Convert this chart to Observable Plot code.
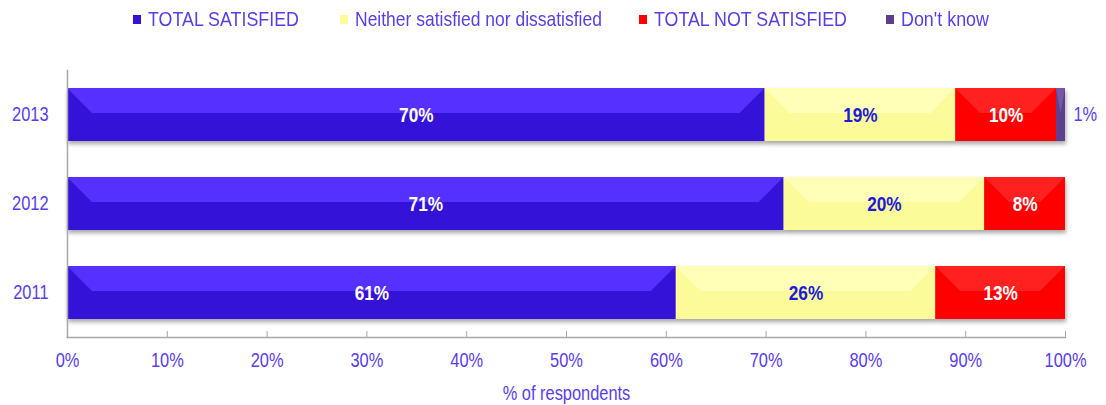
<!DOCTYPE html>
<html><head><meta charset="utf-8">
<script src="https://cdn.jsdelivr.net/npm/d3@7"></script>
<script src="https://cdn.jsdelivr.net/npm/@observablehq/plot@0.6"></script>
<style>
body{margin:0;background:#fff;font-family:"Liberation Sans",Arial,sans-serif;}
#legend{height:38px;position:relative;color:#5a3de6;font-size:21px;}
.sw{position:absolute;top:15px;width:8px;height:9px;display:block}
.lt{position:absolute;top:7px;white-space:nowrap;transform-origin:0 50%;line-height:24px}
#chart svg{display:block}
</style></head><body>
<div id="legend"></div><div id="chart"></div>
<script>
const years = ["2013", "2012", "2011"];
const categories = ["TOTAL SATISFIED", "Neither satisfied nor dissatisfied", "TOTAL NOT SATISFIED", "Don't know"];
const baseColors = ["#3412d8", "#fbfb9a", "#ff0000", "#5e3f8f"];
const topColors = ["#5530ff", "#ffffb8", "#ff2020", "#7658a8"];
const satisfied = [69.9, 71.8, 61.0];
const neither = [19.1, 20.1, 26.0];
const notSatisfied = [10.1, 8.1, 13.0];
const dontKnow = [0.9, 0, 0];
const satisfiedLabels = ["70%", "71%", "61%"];
const neitherLabels = ["19%", "20%", "26%"];
const notSatisfiedLabels = ["10%", "8%", "13%"];
const dontKnowLabels = ["1%", "", ""];
const xTicks = [0, 10, 20, 30, 40, 50, 60, 70, 80, 90, 100];
const xTitle = "% of respondents";

const series = [satisfied, neither, notSatisfied, dontKnow];
const seriesLabels = [satisfiedLabels, neitherLabels, notSatisfiedLabels, dontKnowLabels];
const data = [];
years.forEach((year, yi) => {
  categories.forEach((cat, ci) => {
    data.push({year, cat, ci, value: series[ci][yi], label: seriesLabels[ci][yi]});
  });
});

// legend (HTML, above the SVG)
const legendSwatchX = [133, 340, 639, 886];
const legendTextWidth = [151, 247, 193, 88];
const legend = document.getElementById("legend");
const legendTexts = [];
categories.forEach((c, i) => {
  const sw = document.createElement("span");
  sw.className = "sw";
  sw.style.left = legendSwatchX[i] + "px";
  sw.style.background = baseColors[i];
  const t = document.createElement("span");
  t.className = "lt";
  t.style.left = (legendSwatchX[i] + 15) + "px";
  t.textContent = c;
  legend.append(sw, t);
  legendTexts.push(t);
});
legendTexts.forEach((t, i) => {
  const w = t.getBoundingClientRect().width;
  if (w > 0) t.style.transform = `scaleX(${(legendTextWidth[i] / w).toFixed(3)})`;
});

const textColor = "#5a3de6";
const font = '"Liberation Sans",Arial,sans-serif';

function bevel(index, scales, values, dims, ctx, next) {
  const g = next(index, scales, values, dims, ctx);
  const bw = scales.y.bandwidth ? scales.y.bandwidth() : 0;
  const sel = d3.select(g);
  for (const i of index) {
    const x1 = Math.min(values.x1[i], values.x2[i]);
    const x2 = Math.max(values.x1[i], values.x2[i]);
    if (x2 - x1 <= 0) continue;
    const y0 = values.y[i];
    const h = bw;
    const b = Math.min(h * 0.47, (x2 - x1) / 2);
    const ym = y0 + h * 0.47;
    sel.append("polygon")
      .attr("points", `${x1},${y0} ${x2},${y0} ${x2 - b},${ym} ${x1 + b},${ym}`)
      .attr("fill", topColors[data[i].ci]);
  }
  sel.attr("style", "filter: drop-shadow(1px 3px 2px rgba(0,0,0,0.35))");
  return g;
}

const chart = Plot.plot({
  width: 1106,
  height: 367,
  marginTop: 32,
  marginBottom: 68,
  marginLeft: 67,
  marginRight: 41,
  style: {fontFamily: font, fontSize: "20px", color: textColor, background: "#fff"},
  x: {domain: [0, 100]},
  y: {domain: years, paddingInner: 0.4, paddingOuter: 0.2},
  color: {domain: categories, range: baseColors},
  marks: [
    Plot.barX(data, Plot.stackX({x: "value", y: "year", fill: "cat", order: categories, render: bevel})),
    Plot.text(data, Plot.stackX({x: "value", y: "year", z: "cat", order: categories,
      text: d => (d.ci === 0 || d.ci === 2) ? d.label : "", fill: "#ffffff", fontWeight: "bold", fontSize: 21})),
    Plot.text(data, Plot.stackX({x: "value", y: "year", z: "cat", order: categories,
      text: d => d.ci === 1 ? d.label : "", fill: "#1c1cd8", fontWeight: "bold", fontSize: 21})),
    Plot.text(data, Plot.stackX2({x: "value", y: "year", z: "cat", order: categories,
      text: d => d.ci === 3 ? d.label : "", fill: textColor, textAnchor: "start", dx: 8, fontSize: 20})),
    Plot.frame({anchor: "left", stroke: "#a8a8a8", strokeWidth: 1.5}),
    Plot.frame({anchor: "bottom", stroke: "#a8a8a8", strokeWidth: 1.5}),
    Plot.ruleX(xTicks, {x: d => d, insetTop: 261, stroke: "#a8a8a8"}),
    Plot.axisX({ticks: xTicks, tickFormat: d => d + "%", tickSize: 0, tickPadding: 15, fontSize: 20, fill: textColor,
      label: xTitle, labelAnchor: "center", labelArrow: "none", labelOffset: 62}),
    Plot.axisY({tickSize: 0, tickPadding: 19, fontSize: 20, fill: textColor, label: null})
  ]
});
document.getElementById("chart").append(chart);
// narrow the glyphs horizontally (Arial Narrow look)
chart.querySelectorAll("text").forEach(t => {
  const w = t.getComputedTextLength();
  if (w > 0) {
    t.setAttribute("textLength", (w * 0.82).toFixed(2));
    t.setAttribute("lengthAdjust", "spacingAndGlyphs");
  }
});
</script>
</body></html>
